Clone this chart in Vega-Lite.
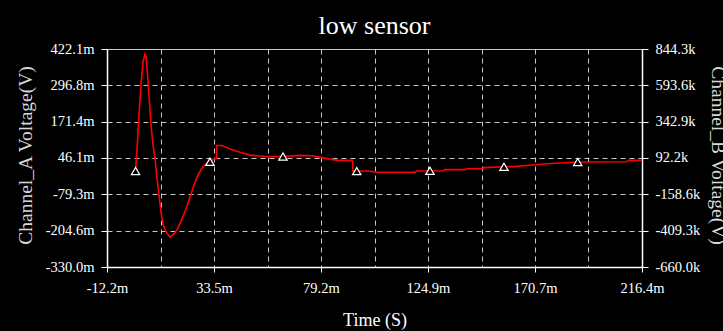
{
  "$schema": "https://vega.github.io/schema/vega-lite/v6.json",
  "width": 535,
  "height": 218,
  "autosize": {"type": "none"},
  "padding": {"left": 107, "top": 49, "right": 81, "bottom": 64},
  "background": "#000000",
  "title": {"text": "low sensor", "color": "#ffffff", "font": "Liberation Serif", "fontSize": 26, "fontWeight": "normal", "anchor": "middle", "frame": "group", "baseline": "alphabetic", "offset": 11, "dy": 30},
  "config": {"view": {"stroke": "#c8c8c8", "strokeWidth": 1}, "font": "Liberation Serif"},
  "datasets": {
    "channel_a": [
      {"t": 0, "v": 1}, {"t": 0.62, "v": 74}, {"t": 1.47, "v": 194}, {"t": 2.33, "v": 298}, {"t": 3.18, "v": 377},
      {"t": 4.04, "v": 405}, {"t": 4.46, "v": 398}, {"t": 4.89, "v": 357}, {"t": 5.75, "v": 263}, {"t": 6.6, "v": 160},
      {"t": 7.46, "v": 91}, {"t": 8.31, "v": 46}, {"t": 9.16, "v": -23}, {"t": 10.02, "v": -82}, {"t": 10.87, "v": -140},
      {"t": 11.73, "v": -182}, {"t": 13.01, "v": -209}, {"t": 14.72, "v": -227}, {"t": 16.43, "v": -216}, {"t": 18.14, "v": -196},
      {"t": 19.85, "v": -164}, {"t": 21.56, "v": -130}, {"t": 23.27, "v": -89}, {"t": 24.97, "v": -47}, {"t": 26.68, "v": -13},
      {"t": 28.39, "v": 12}, {"t": 30.1, "v": 25}, {"t": 31.81, "v": 33}, {"t": 33.52, "v": 43}, {"t": 34.59, "v": 45},
      {"t": 34.67, "v": 89}, {"t": 36.94, "v": 89}, {"t": 40.36, "v": 77}, {"t": 44.63, "v": 66}, {"t": 48.9, "v": 56},
      {"t": 56.04, "v": 51}, {"t": 63.0, "v": 51}, {"t": 70.27, "v": 55}, {"t": 75.27, "v": 54}, {"t": 78.81, "v": 49},
      {"t": 82.36, "v": 43}, {"t": 86.63, "v": 38}, {"t": 92.79, "v": 38}, {"t": 92.83, "v": 1}, {"t": 99.45, "v": 1},
      {"t": 103.04, "v": -3}, {"t": 119.41, "v": -3}, {"t": 120.13, "v": 1}, {"t": 131.5, "v": 2}, {"t": 132.22, "v": 6},
      {"t": 140.77, "v": 6}, {"t": 141.5, "v": 9}, {"t": 148.59, "v": 9}, {"t": 148.63, "v": 13}, {"t": 157.43, "v": 16},
      {"t": 162.86, "v": 17}, {"t": 170.68, "v": 23}, {"t": 179.22, "v": 28}, {"t": 188.92, "v": 32}, {"t": 209.86, "v": 33},
      {"t": 210.55, "v": 38}, {"t": 216.27, "v": 38}
    ],
    "markers": [
      {"t": 0, "v": 1}, {"t": 31.81, "v": 33}, {"t": 63.0, "v": 51}, {"t": 94.5, "v": 1},
      {"t": 125.8, "v": 2}, {"t": 157.43, "v": 16}, {"t": 188.92, "v": 32}
    ]
  },
  "encoding": {
    "x": {
      "field": "t", "type": "quantitative",
      "scale": {"domain": [-12.2, 216.4], "nice": false, "zero": false},
      "axis": {
        "values": [-12.2, 10.66, 33.5, 56.38, 79.2, 102.1, 124.9, 147.82, 170.7, 193.54, 216.4],
        "labelExpr": "indexof([-12.2, 33.5, 79.2, 124.9, 170.7, 216.4], datum.value) >= 0 ? replace(format(datum.value, '.1f'), '−', '-') + 'm' : ''",
        "title": "Time (S)",
        "grid": true, "gridColor": "#c8c8c8", "gridDash": [5, 4], "gridWidth": 1,
        "domainColor": "#ffffff", "domainWidth": 1.5,
        "tickColor": {"condition": {"test": "indexof([-12.2, 33.5, 79.2, 124.9, 170.7, 216.4], datum.value) >= 0", "value": "#ffffff"}, "value": "transparent"},
        "tickSize": 5,
        "labelColor": "#ffffff", "labelFont": "Liberation Serif", "labelFontSize": 14.5, "labelPadding": 9,
        "labelFlush": false, "labelOverlap": false,
        "titleColor": "#ffffff", "titleFont": "Liberation Serif", "titleFontSize": 18, "titleFontWeight": "normal",
        "titleBaseline": "alphabetic", "titleY": 58
      }
    }
  },
  "layer": [
    {
      "encoding": {
        "y": {
          "field": "v", "type": "quantitative",
          "scale": {"domain": [-330, 422.1], "nice": false, "zero": false},
          "axis": {
            "values": [-330, -204.6, -79.3, 46.1, 171.4, 296.8, 422.1],
            "labelExpr": "replace(format(datum.value, '.1f'), '−', '-') + 'm'",
            "title": "Channel_A Voltage(V)",
            "grid": true, "gridColor": "#c8c8c8", "gridDash": [5, 4], "gridWidth": 1,
            "domainColor": "#ffffff", "domainWidth": 1.5,
            "tickColor": "#ffffff", "tickSize": 6,
            "labelColor": "#ffffff", "labelFont": "Liberation Serif", "labelFontSize": 14.5, "labelPadding": 7,
            "labelFlush": false, "labelOverlap": false,
            "titleColor": "#d8d8d8", "titleFont": "Liberation Serif", "titleFontSize": 19.5, "titleFontWeight": "normal",
            "titleAngle": -90, "titleBaseline": "alphabetic", "titleX": -76, "titleY": 106
          }
        }
      },
      "layer": [
        {
          "data": {"name": "channel_a"},
          "mark": {"type": "line", "color": "#ff0000", "strokeWidth": 1.6}
        },
        {
          "data": {"name": "markers"},
          "mark": {"type": "point", "shape": "triangle-up", "filled": true, "fill": "#000000", "stroke": "#ffffff", "strokeWidth": 1.2, "size": 70, "opacity": 1}
        }
      ]
    },
    {
      "data": {"name": "channel_a"},
      "mark": {"type": "line", "opacity": 0},
      "encoding": {
        "y": {
          "field": "vb", "type": "quantitative",
          "scale": {"domain": [-660, 844.3], "nice": false, "zero": false},
          "axis": {
            "orient": "right",
            "values": [-660, -409.3, -158.6, 92.2, 342.9, 593.6, 844.3],
            "labelExpr": "replace(format(datum.value, '.1f'), '−', '-') + 'k'",
            "title": "Channel_B Voltage(V)",
            "grid": false,
            "domainColor": "#ffffff", "domainWidth": 1.5,
            "tickColor": "#ffffff", "tickSize": 6,
            "labelColor": "#ffffff", "labelFont": "Liberation Serif", "labelFontSize": 14.5, "labelPadding": 7,
            "labelFlush": false, "labelOverlap": false,
            "titleColor": "#d8d8d8", "titleFont": "Liberation Serif", "titleFontSize": 19.5, "titleFontWeight": "normal",
            "titleAngle": 90, "titleBaseline": "alphabetic", "titleX": 69, "titleY": 106
          }
        }
      }
    }
  ],
  "resolve": {"scale": {"y": "independent"}}
}
